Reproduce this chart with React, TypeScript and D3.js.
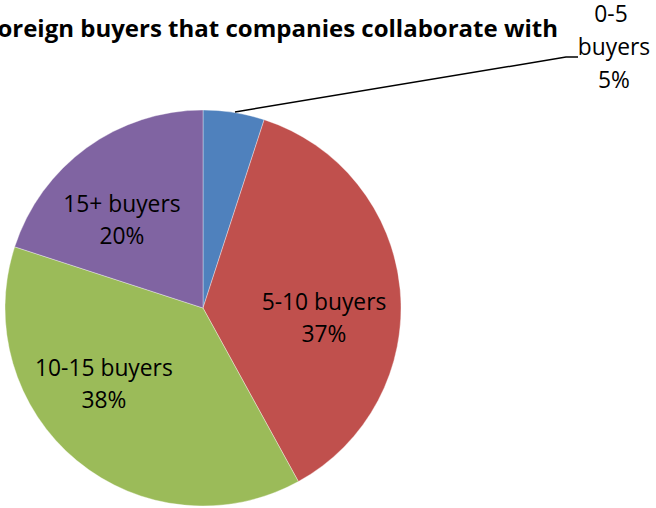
import React from "react";
import * as d3 from "d3";

const categories = ["0-5 buyers", "5-10 buyers", "10-15 buyers", "15+ buyers"];
const values = [5, 37, 38, 20];
const colors = ["#4F81BD", "#C0504D", "#9BBB59", "#8064A2"];
const title = "Number of foreign buyers that companies collaborate with";

export default function App() {
  const W = 656, H = 508;
  const cx = 203, cy = 308, r = 198;
  const pie = d3.pie<number>().sort(null).value((d) => d)(values);
  const arc = d3.arc<d3.PieArcDatum<number>>().innerRadius(0).outerRadius(r);
  const font = "'Open Sans', 'Noto Sans', sans-serif";
  const total = d3.sum(values);

  // inside label placement: fraction of radius and angle shift (degrees) from mid-angle
  const labelFrac = [0, 0.613, 0.63, 0.605];
  const labelShift = [0, 10, 13, -6.6];
  const fs = 22.8;
  const pctOf = (v: number) => Math.round((v / total) * 100) + "%";

  return (
    <svg width={W} height={H} style={{ position: "absolute", left: 0, top: 0, background: "#fff" }}>
      <text x={558} y={37} textAnchor="end" fontFamily={font} fontWeight="bold" fontSize={24} fill="#000">
        {title}
      </text>
      <g transform={`translate(${cx},${cy})`}>
        {pie.map((d, i) => (
          <path key={i} d={arc(d) || ""} fill={colors[i]} stroke="#fff" strokeWidth={0.6} strokeOpacity={0.6} />
        ))}
      </g>
      {pie.map((d, i) => {
        if (i === 0) return null;
        const a = (d.startAngle + d.endAngle) / 2 + (labelShift[i] * Math.PI) / 180;
        const k = labelFrac[i];
        const x = cx + r * k * Math.sin(a);
        const y = cy - r * k * Math.cos(a);
        return (
          <text key={i} x={x} y={y} textAnchor="middle" fontFamily={font} fontSize={fs} fill="#000">
            <tspan x={x} dy={-8}>{categories[i]}</tspan>
            <tspan x={x} dy={32.5}>{pctOf(values[i])}</tspan>
          </text>
        );
      })}
      <polyline points={`235,112 566,57 578,57`} fill="none" stroke="#000" strokeWidth={1.5} />
      <text textAnchor="middle" fontFamily={font} fontSize={fs} fill="#000">
        <tspan x={611} y={22}>0-5</tspan>
        <tspan x={614} y={55}>buyers</tspan>
        <tspan x={614} y={88}>{pctOf(values[0])}</tspan>
      </text>
    </svg>
  );
}
